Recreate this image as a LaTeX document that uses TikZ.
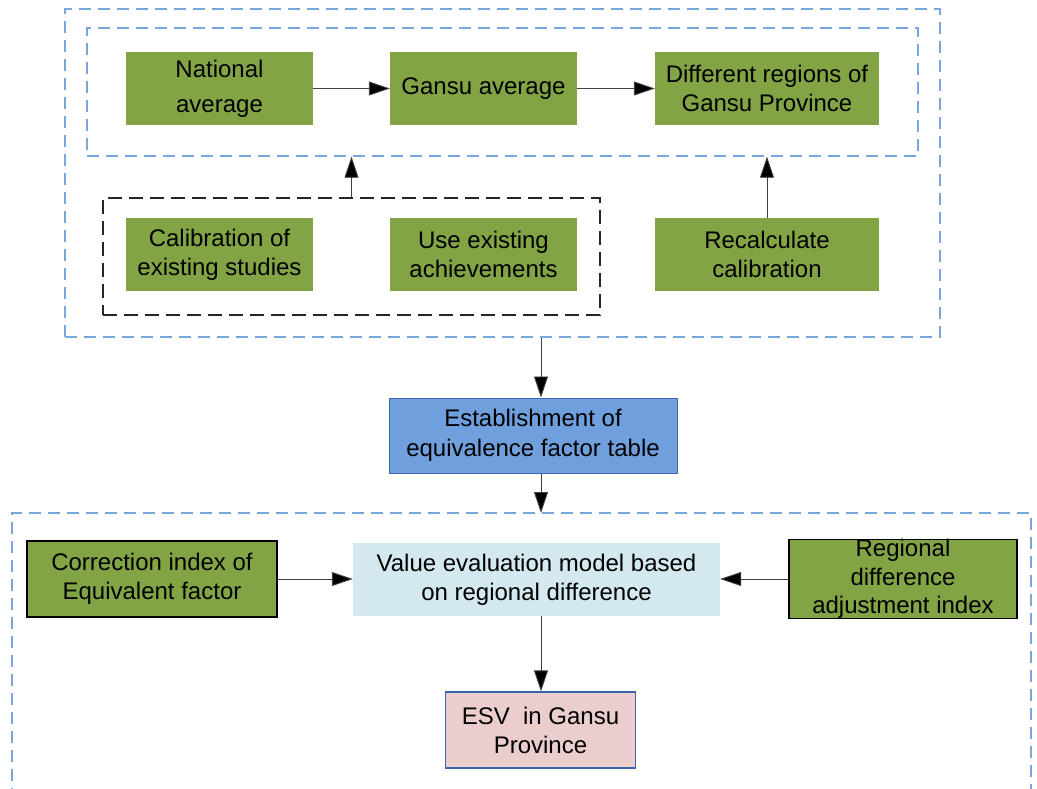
\documentclass[tikz,border=0pt]{standalone}
\usepackage{fontspec}
\setmainfont{Liberation Sans}
\usetikzlibrary{arrows.meta}
\definecolor{grn}{RGB}{131,164,69}
\definecolor{dblue}{RGB}{122,166,222}
\definecolor{estfill}{RGB}{111,159,220}
\definecolor{estdraw}{RGB}{61,108,179}
\definecolor{valfill}{RGB}{211,233,239}
\definecolor{esvfill}{RGB}{234,205,204}
\definecolor{esvdraw}{RGB}{59,100,174}
\tikzset{
  box/.style={inner sep=0pt, align=center, font=\fontsize{24}{29}\selectfont},
  gbox/.style={box, fill=grn},
  bluedash/.style={draw=dblue, line width=1.4pt, dash pattern=on 12pt off 7pt},
  blackdash/.style={draw=black!85, line width=1.8pt, dash pattern=on 14pt off 7pt},
  arr/.style={draw=black!75, line width=0.9pt, -{Triangle[length=21pt,width=14pt,fill=black]}}
}
\begin{document}
\begin{tikzpicture}[x=1pt,y=-1pt]
\useasboundingbox (0,0) rectangle (1037,788);
% dashed groups
\node[bluedash, minimum width=875pt, minimum height=328pt] (outer) at (502.5,173) {};
\node[bluedash, minimum width=831pt, minimum height=128pt] (inner) at (502.5,92) {};
\node[blackdash, minimum width=497pt, minimum height=117pt] (blk) at (351.5,256.5) {};
\coordinate (bl) at (12,513);
\coordinate (br) at (1031,513);
\draw[bluedash] (12,800) -- (bl) -- (br) -- (1031,800);
% top row
\node[gbox, minimum width=187pt, minimum height=73pt, font=\fontsize{24}{35}\selectfont] (nat) at (219.5,88.5) {National\\average};
\node[gbox, minimum width=187pt, minimum height=73pt] (gan) at (483.5,88.5) {Gansu average};
\node[gbox, minimum width=224pt, minimum height=73pt] (dif) at (767,88.5) {Different regions of\\Gansu Province};
% second row
\node[gbox, minimum width=187pt, minimum height=73pt] (cal) at (219.5,254.5) {Calibration of\\existing studies};
\node[gbox, minimum width=187pt, minimum height=73pt] (use) at (483.5,254.5) {Use existing\\achievements};
\node[gbox, minimum width=224pt, minimum height=73pt] (rec) at (767,254.5) {Recalculate\\calibration};
% middle
\node[box, fill=estfill, draw=estdraw, line width=1pt, minimum width=288pt, minimum height=75pt, font=\fontsize{24}{30}\selectfont] (est) at (533,435.5) {Establishment of\\equivalence factor table};
% bottom
\node[gbox, draw=black, line width=1.5pt, minimum width=250pt, minimum height=76pt] (cor) at (152,579) {Correction index of\\Equivalent factor};
\node[box, fill=valfill, minimum width=367pt, minimum height=73pt] (val) at (536.5,579.5) {Value evaluation model based\\on regional difference};
\node[gbox, draw=black, line width=1.5pt, minimum width=228pt, minimum height=76pt, font=\fontsize{24}{28.5}\selectfont] (reg) at (903,579) {Regional\\difference\\adjustment index};
\node[box, fill=esvfill, draw=esvdraw, line width=1.2pt, minimum width=190pt, minimum height=76pt] (esv) at (540.5,730) {ESV\ \ in Gansu\\Province};
% connectors
\coordinate (ax) at (541,0);
\draw[arr] (nat.east) -- (gan.west);
\draw[arr] (gan.east) -- (dif.west);
\draw[arr] (blk.north) -- (blk.north |- inner.south);
\draw[arr] (rec.north) -- (rec.north |- inner.south);
\draw[arr] (outer.south -| ax) -- (est.north -| ax);
\draw[arr] (est.south -| ax) -- (bl -| ax);
\draw[arr] (cor.east) -- (cor.east -| val.west);
\draw[arr] (reg.west) -- (reg.west -| val.east);
\draw[arr] (val.south -| ax) -- (esv.north -| ax);
\end{tikzpicture}
\end{document}
